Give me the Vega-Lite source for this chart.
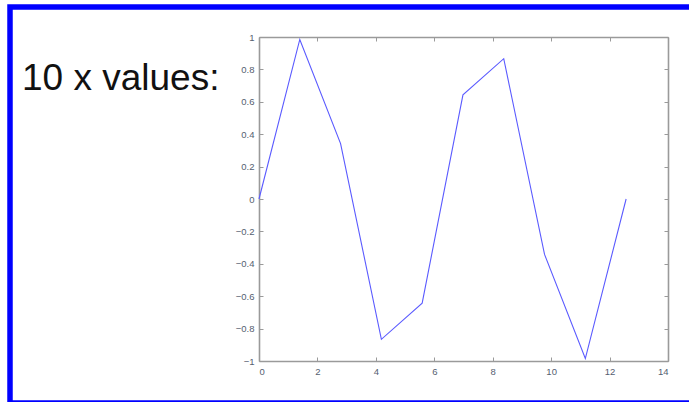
{
  "$schema": "https://vega.github.io/schema/vega-lite/v6.json",
  "autosize": {"type": "none"},
  "width": 685,
  "height": 396,
  "padding": {"left": 10, "top": 7, "right": 0, "bottom": 0},
  "background": "white",
  "title": {
    "text": "10 x values:",
    "orient": "top",
    "anchor": "start",
    "frame": "group",
    "offset": 0,
    "dx": 12,
    "dy": 120,
    "baseline": "alphabetic",
    "font": "Liberation Sans",
    "fontSize": 37,
    "fontWeight": "normal",
    "color": "#111111"
  },
  "config": {
    "view": {"stroke": "#0000ff", "strokeWidth": 5.5},
    "axis": {
      "grid": false,
      "domainColor": "#9a9a9a",
      "domainWidth": 1.6,
      "tickColor": "#9a9a9a",
      "tickSize": -4,
      "tickWidth": 1,
      "labelFont": "Liberation Sans",
      "labelFontSize": 9.5,
      "labelColor": "#556070",
      "title": null
    }
  },
  "data": {
    "values": [
      {"x": 0, "y": 0},
      {"x": 1.3963, "y": 0.9848},
      {"x": 2.7925, "y": 0.342},
      {"x": 4.1888, "y": -0.866},
      {"x": 5.5851, "y": -0.6428},
      {"x": 6.9813, "y": 0.6428},
      {"x": 8.3776, "y": 0.866},
      {"x": 9.7738, "y": -0.342},
      {"x": 11.1701, "y": -0.9848},
      {"x": 12.5664, "y": 0}
    ]
  },
  "layer": [
    {
      "mark": {"type": "line", "color": "#5a5aff", "strokeWidth": 1.1},
      "encoding": {
        "x": {
          "field": "x", "type": "quantitative",
          "scale": {"domain": [0, 14], "range": [249, 658], "nice": false, "zero": false},
          "axis": {"orient": "bottom", "offset": -42, "values": [0, 2, 4, 6, 8, 10, 12, 14], "labelPadding": 9}
        },
        "y": {
          "field": "y", "type": "quantitative",
          "scale": {"domain": [-1, 1], "range": [354, 30], "nice": false, "zero": false},
          "axis": {"orient": "left", "offset": -249, "values": [-1, -0.8, -0.6, -0.4, -0.2, 0, 0.2, 0.4, 0.6, 0.8, 1], "format": ".1~f", "labelPadding": 9}
        }
      }
    },
    {
      "mark": {"type": "point", "opacity": 0},
      "encoding": {
        "x": {
          "field": "x", "type": "quantitative",
          "axis": {"orient": "top", "offset": -30, "values": [0, 2, 4, 6, 8, 10, 12, 14], "labels": false}
        },
        "y": {
          "field": "y", "type": "quantitative",
          "axis": {"orient": "right", "offset": -27, "values": [-1, -0.8, -0.6, -0.4, -0.2, 0, 0.2, 0.4, 0.6, 0.8, 1], "labels": false}
        }
      }
    }
  ]
}
